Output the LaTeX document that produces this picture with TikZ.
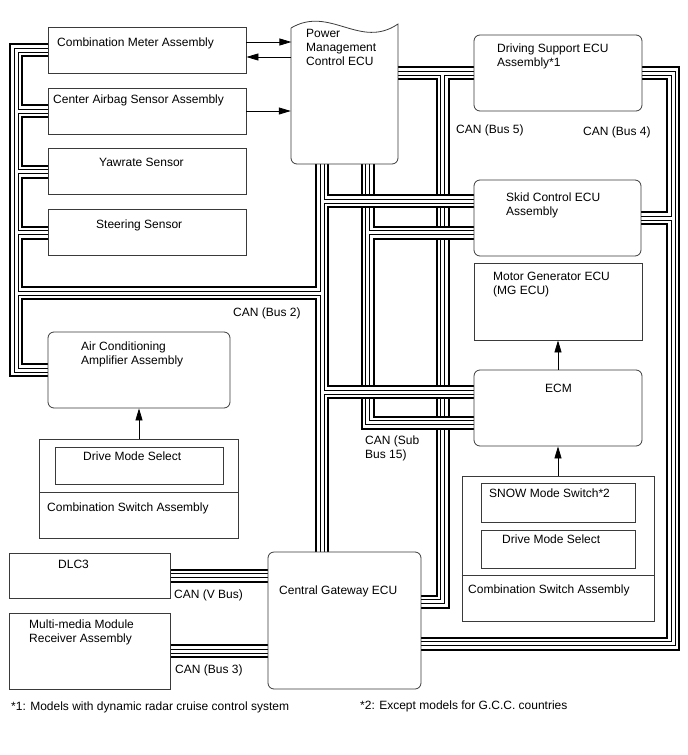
\documentclass[tikz,border=0pt]{standalone}
\usepackage{fontspec}
\setmainfont{Liberation Sans}
\usepackage{tikz}
\usetikzlibrary{arrows.meta,backgrounds}
\definecolor{cEdge}{HTML}{3A3A3A}
\definecolor{cBus}{HTML}{000000}

\begin{document}
\begin{tikzpicture}[
  x=1pt,y=-1pt,font=\fontsize{12}{14}\selectfont,
  ecu/.style={draw=cEdge,line width=0.8pt,inner sep=0pt},
  ecur/.style={ecu,rounded corners=6pt},
  txt/.style={anchor=north west,inner sep=0pt,align=left},
  bus/.style={draw=cBus,line width=14pt,
              postaction={draw=white,line width=10pt},
              postaction={draw=cBus,line width=5pt},
              postaction={draw=white,line width=3pt}},
  arr/.style={-{Triangle[length=12pt,width=7pt]},draw=black,line width=0.8pt}
]
\useasboundingbox (0,0) rectangle (688,755);

% ---- coluna esquerda
\node[ecu,minimum width=198pt,minimum height=46pt] (meter) at (147,50) {};
\node[txt] (meterT) at (57,37.5) {Combination Meter Assembly};
\node[ecu,minimum width=198pt,minimum height=46pt] (airbag) at (147,111) {};
\node[txt] (airbagT) at (53,94.5) {Center Airbag Sensor Assembly};
\node[ecu,minimum width=198pt,minimum height=46pt] (yaw) at (147,171.5) {};
\node[txt] (yawT) at (99,157.5) {Yawrate Sensor};
\node[ecu,minimum width=198pt,minimum height=46pt] (steer) at (147,232.5) {};
\node[txt] (steerT) at (96,219.5) {Steering Sensor};

\node[ecur,minimum width=182pt,minimum height=76pt] (acamp) at (139,370) {};
\node[txt] (acampT) at (81,341.5) {Air Conditioning\\Amplifier Assembly};
\node[ecu,minimum width=199pt,minimum height=99pt] (swL) at (139,488.5) {};
\node[ecu,minimum width=168pt,minimum height=37pt] (dmsL) at (139,465.5) {};
\node[txt] (dmsLT) at (83,451.5) {Drive Mode Select};
\draw[ecu] ([yshift=-3.5pt]swL.west) -- ([yshift=-3.5pt]swL.east);
\node[txt] (swLT) at (47,502.5) {Combination Switch Assembly};

\node[ecu,minimum width=161pt,minimum height=45pt] (dlc) at (89.5,575.5) {};
\node[txt] (dlcT) at (58,559.5) {DLC3};
\node[ecu,minimum width=161pt,minimum height=76pt] (mm) at (89.5,651) {};
\node[txt] (mmT) at (29,619.5) {Multi-media Module\\Receiver Assembly};

% ---- centro
\node[inner sep=0pt,minimum width=107pt,minimum height=142pt] (pmecu) at (344.5,93) {};
\draw[ecu] (291,28) .. controls (330,5) and (360,50) .. (398,24)
  [rounded corners=6pt] -- (398,164) -- (291,164) -- (291,28);
\node[txt] (pmecuT) at (306,29.5) {Power\\Management\\Control ECU};
\node[ecur,minimum width=153pt,minimum height=137pt] (gw) at (344.5,620.5) {};
\node[txt] (gwT) at (279,585.5) {Central Gateway ECU};

% ---- coluna direita
\node[ecur,minimum width=168pt,minimum height=76pt] (ds) at (558,73) {};
\node[txt] (dsT) at (497,43.5) {Driving Support ECU\\Assembly*1};
\node[ecur,minimum width=167pt,minimum height=76pt] (skid) at (557.5,218) {};
\node[txt] (skidT) at (506,192.5) {Skid Control ECU\\Assembly};
\node[ecu,minimum width=168pt,minimum height=77pt] (mg) at (558,301.5) {};
\node[txt] (mgT) at (493,271.5) {Motor Generator ECU\\(MG ECU)};
\node[ecur,minimum width=168pt,minimum height=76pt] (ecm) at (558,408) {};
\node[txt] (ecmT) at (545,383.5) {ECM};
\node[ecu,minimum width=192pt,minimum height=145pt] (swR) at (558,548.5) {};
\node[ecu,minimum width=154pt,minimum height=39pt] (snow) at (558,502.5) {};
\node[txt] (snowT) at (489,488.5) {SNOW Mode Switch*2};
\node[ecu,minimum width=154pt,minimum height=38pt] (dmsR) at (558,549) {};
\node[txt] (dmsRT) at (502,534.5) {Drive Mode Select};
\draw[ecu] ([yshift=-26.5pt]swR.west) -- ([yshift=-26.5pt]swR.east);
\node[txt] (swRT) at (468,584.5) {Combination Switch Assembly};

% ---- rotulos dos barramentos
\node[txt] (lblB2) at (233,307.5) {CAN (Bus 2)};
\node[txt] (lblB5) at (456,124.5) {CAN (Bus 5)};
\node[txt] (lblB4) at (583,126.5) {CAN (Bus 4)};
\node[txt] (lblS15) at (365,435.5) {CAN (Sub\\Bus 15)};
\node[txt] (lblV) at (174,589.5) {CAN (V Bus)};
\node[txt] (lblB3) at (175,664.5) {CAN (Bus 3)};
\node[txt] (note1) at (11,701.5) {*1: Models with dynamic radar cruise control system};
\node[txt] (note2) at (360,700.5) {*2: Except models for G.C.C. countries};

% ---- setas
\draw[arr] ([yshift=8pt]meter.east) -- ++(45,0);
\draw[arr] ([yshift=-7pt]meter.east) ++(45,0) -- ++(-45,0);
\draw[arr] (airbag.east) -- (airbag.east -| pmecu.west);
\draw[arr] (swL.north) -- (acamp.south);
\draw[arr] (ecm.north) -- (mg.south);
\draw[arr] (swR.north) -- (ecm.south);

% ---- barramentos CAN
\coordinate (b2w) at (16,293);
\coordinate (b2e) at (322,293);
\begin{scope}[on background layer]
\draw[bus] (pmecu.east |- ds.west) -- (ds.west)
  ([xshift=-31pt]ds.west) |- ([yshift=19pt]gw.east);
\draw[bus] ([xshift=23pt]pmecu.south) |- ([yshift=-14.5pt]ecm.west)
  ([yshift=-14.5pt]skid.west) -- ++(-106.5,0);
\draw[bus] (meter.west) -| (b2w) |- (acamp.west)
  (airbag.west) -- ++(-32,0)
  (yaw.west) -- ++(-32,0)
  (steer.west) -- ++(-32,0)
  (b2w) -- (b2e)
  ([xshift=-22.5pt]pmecu.south) -- ([xshift=-22.5pt]gw.north)
  ([yshift=17pt]skid.west) -- ++(-152,0)
  ([yshift=16pt]ecm.west) -- ++(-152,0);
\draw[bus] (ds.east) -- ++(31,0) |- ([yshift=-23pt]gw.east)
  (skid.east) -- ++(32,0);
\draw[bus] (dlc.east) -- (dlc.east -| gw.west);
\draw[bus] (mm.east) -- (mm.east -| gw.west);
\end{scope}
\end{tikzpicture}
\end{document}
